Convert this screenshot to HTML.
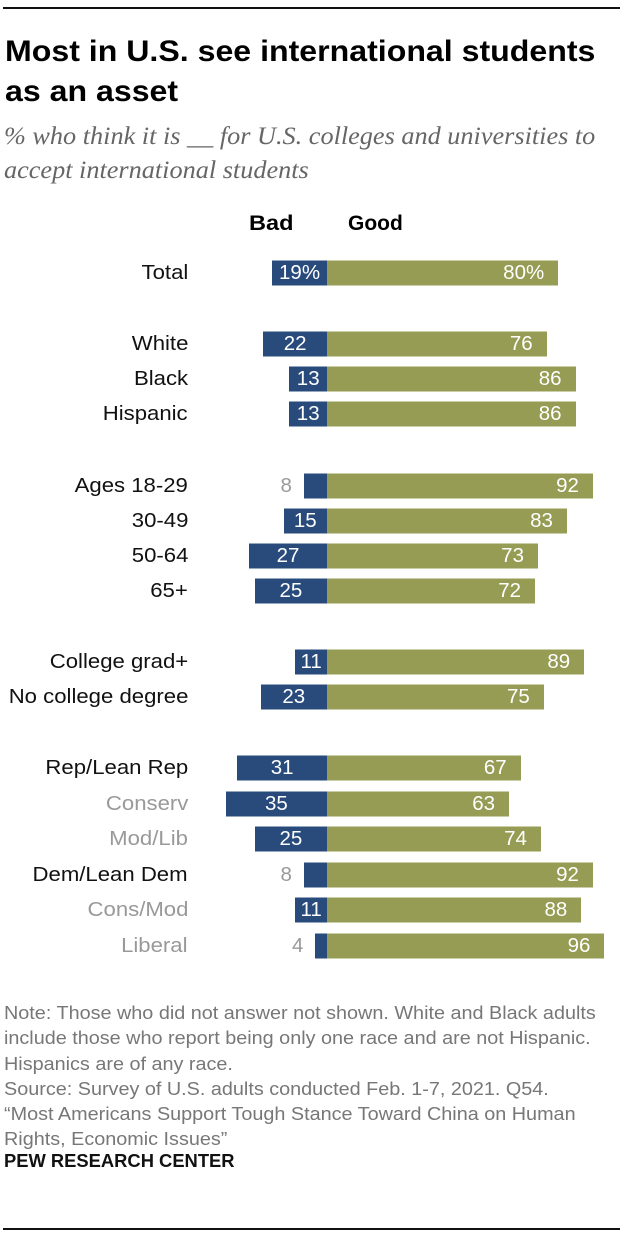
<!DOCTYPE html>
<html><head><meta charset="utf-8"><style>
body{margin:0;width:620px;height:1238px;background:#fff;font-family:"Liberation Sans",sans-serif;position:relative;overflow:hidden}
.a{position:absolute;white-space:nowrap}
.lab{position:absolute;right:432px;font-size:20.5px;color:#111;transform:translateY(-50%) scaleX(1.08);transform-origin:right center}
.g{color:#999}
.bar{position:absolute;height:25px;transform:translateY(-50%)}
.b{background:#284b7c}.o{background:#969c53}
.v{position:absolute;font-size:20.5px;color:#fff;transform:translateY(-50%)}
</style></head><body>
<div class="a" style="left:3px;top:7px;width:617px;height:2px;background:#111"></div>
<div class="a" style="left:5px;top:32px;font-size:30px;font-weight:bold;line-height:40px;color:#000;transform:scaleX(1.07);transform-origin:left">Most in U.S. see international students<br>as an asset</div>
<div class="a" style="left:4px;top:120px;font-family:'Liberation Serif',serif;font-style:italic;font-size:25px;line-height:34px;color:#666;transform:scaleX(1.05);transform-origin:left">% who think it is __ for U.S. colleges and universities to<br>accept international students</div>
<div class="a" style="left:249px;top:212px;font-size:21px;font-weight:bold;transform:scaleX(1.12);transform-origin:left">Bad</div>
<div class="a" style="left:348px;top:212px;font-size:21px;font-weight:bold;transform:scaleX(1.0);transform-origin:left">Good</div>
<div id="c"></div>
<div class="a" style="left:4px;top:1001px;font-size:18px;line-height:25.3px;color:#777;transform:scaleX(1.1);transform-origin:left">Note: Those who did not answer not shown. White and Black adults<br>include those who report being only one race and are not Hispanic.<br>Hispanics are of any race.<br>Source: Survey of U.S. adults conducted Feb. 1-7, 2021. Q54.<br>“Most Americans Support Tough Stance Toward China on Human<br>Rights, Economic Issues”</div>
<div class="a" style="left:4px;top:1151px;font-size:18px;font-weight:bold;color:#111;transform:scaleX(1.02);transform-origin:left">PEW RESEARCH CENTER</div>
<script>
var d=[["Total",19,80,273,0],["White",22,76,344,0],["Black",13,86,379,0],["Hispanic",13,86,414,0],["Ages 18-29",8,92,486,0],["30-49",15,83,521,0],["50-64",27,73,556,0],["65+",25,72,591,0],["College grad+",11,89,662,0],["No college degree",23,75,697,0],["Rep/Lean Rep",31,67,768,0],["Conserv",35,63,804,1],["Mod/Lib",25,74,839,1],["Dem/Lean Dem",8,92,875,0],["Cons/Mod",11,88,910,1],["Liberal",4,96,946,1]];
var h="",C=327,s=2.89;
d.forEach(function(r,i){var y=r[3],bw=r[1]*s,gw=r[2]*s,p=i==0?"%":"";
h+='<div class="lab'+(r[4]?' g':'')+'" style="top:'+y+'px">'+r[0]+'</div>';
h+='<div class="bar b" style="left:'+(C-bw)+'px;width:'+bw+'px;top:'+y+'px"></div>';
h+='<div class="bar o" style="left:'+C+'px;width:'+gw+'px;top:'+y+'px"></div>';
if(r[1]<10)h+='<div class="v" style="right:'+(620-C+bw+12)+'px;top:'+y+'px;color:#999">'+r[1]+'</div>';
else h+='<div class="v" style="left:'+(C-bw)+'px;width:'+bw+'px;text-align:center;top:'+y+'px">'+r[1]+p+'</div>';
h+='<div class="v" style="right:'+(620-C-gw+14)+'px;top:'+y+'px">'+r[2]+p+'</div>';});
document.getElementById("c").innerHTML=h;
</script>
<div class="a" style="left:3px;top:1228px;width:617px;height:2px;background:#111"></div>
</body></html>
